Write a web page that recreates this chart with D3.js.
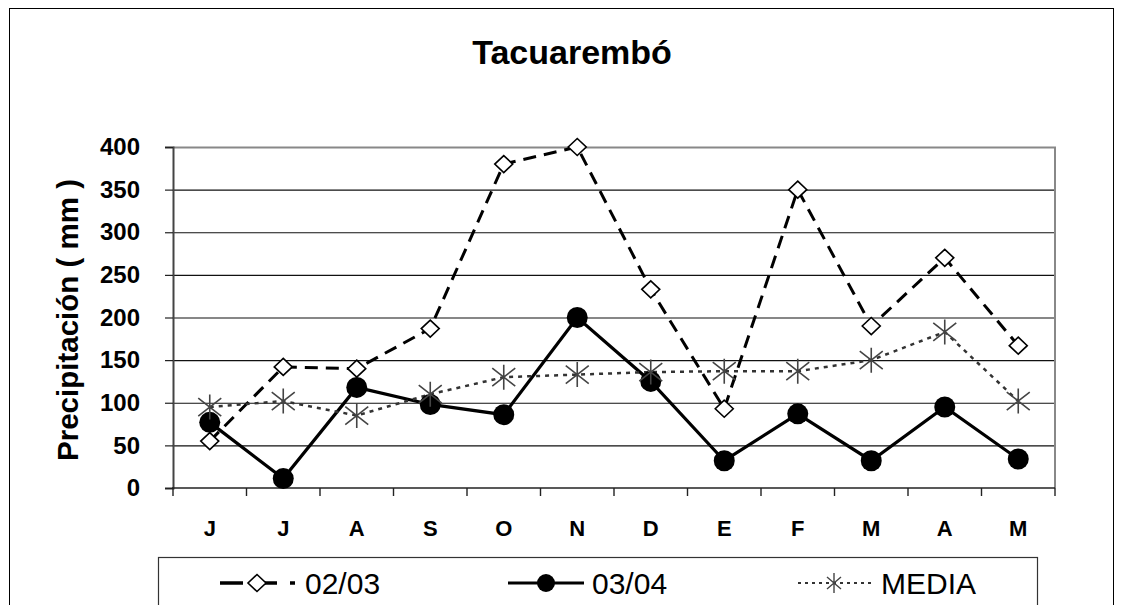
<!DOCTYPE html>
<html>
<head>
<meta charset="utf-8">
<script src="https://cdn.jsdelivr.net/npm/d3@7"></script>
<style>
  html, body { margin: 0; padding: 0; background: #fff; }
  svg { display: block; font-family: "Liberation Sans", Arial, sans-serif; }
</style>
</head>
<body>
<svg id="chart" width="1122" height="605"></svg>
<script>
// Monthly rainfall, Tacuarembó (June to May)
const months = ["J", "J", "A", "S", "O", "N", "D", "E", "F", "M", "A", "M"];
const rain0203 = [55, 142, 140, 187, 380, 400, 233, 93, 350, 190, 270, 167];
const rain0304 = [77, 11, 118, 98, 86, 200, 125, 32, 87, 32, 95, 34];
const rainMedia = [95, 102, 85, 110, 130, 133, 136, 137, 137, 150, 183, 102];
const yTicks = [0, 50, 100, 150, 200, 250, 300, 350, 400];
const seriesNames = ["02/03", "03/04", "MEDIA"];

const svg = d3.select("#chart");

// outer frame
svg.append("rect")
  .attr("x", 9.5).attr("y", 8.5)
  .attr("width", 1104).attr("height", 620)
  .attr("fill", "#fff").attr("stroke", "#000").attr("stroke-width", 1);

const plot = { left: 173, right: 1055, top: 147, bottom: 488 };

const x = d3.scaleBand()
  .domain(d3.range(months.length))
  .range([plot.left, plot.right]);

const y = d3.scaleLinear()
  .domain([0, 400])
  .range([plot.bottom, plot.top]);

const cx = i => x(i) + x.bandwidth() / 2;

// title
svg.append("text")
  .attr("x", 572).attr("y", 64)
  .attr("text-anchor", "middle")
  .attr("font-size", 34).attr("font-weight", "bold")
  .text("Tacuarembó");

// horizontal gridlines
svg.append("g")
  .selectAll("line")
  .data(yTicks.filter(v => v > 0 && v < 400))
  .join("line")
  .attr("x1", plot.left).attr("x2", plot.right)
  .attr("y1", d => y(d) + 0.5).attr("y2", d => y(d) + 0.5)
  .attr("stroke", "#111").attr("stroke-width", 1.2);

// top and right edges of the plot area
svg.append("path")
  .attr("d", `M${plot.left},${y(400) + 0.5}H${plot.right}V${plot.bottom}`)
  .attr("fill", "none").attr("stroke", "#888").attr("stroke-width", 2);

// y axis
const yAxis = svg.append("g")
  .attr("transform", `translate(${plot.left},0)`)
  .call(d3.axisLeft(y).tickValues(yTicks).tickSize(8).tickPadding(25));
yAxis.select(".domain").attr("stroke", "#444").attr("stroke-width", 2);
yAxis.selectAll(".tick line").attr("stroke", "#222").attr("stroke-width", 1.2);
yAxis.selectAll(".tick text")
  .attr("font-size", 24).attr("font-weight", "bold")
  .attr("font-family", "Liberation Sans, Arial, sans-serif")
  .attr("fill", "#000");

// x axis: ticks sit between categories
const xAxis = svg.append("g")
  .attr("transform", `translate(0,${plot.bottom})`);
xAxis.append("line")
  .attr("x1", plot.left - 1).attr("x2", plot.right)
  .attr("y1", 0).attr("y2", 0)
  .attr("stroke", "#222").attr("stroke-width", 1.6);
xAxis.selectAll("line.tk")
  .data(d3.range(months.length + 1))
  .join("line").attr("class", "tk")
  .attr("x1", i => (i < months.length ? x(i) : plot.right))
  .attr("x2", i => (i < months.length ? x(i) : plot.right))
  .attr("y1", 0).attr("y2", 8)
  .attr("stroke", "#222").attr("stroke-width", 1.4);
xAxis.selectAll("text")
  .data(months)
  .join("text")
  .attr("x", (d, i) => cx(i))
  .attr("y", 48)
  .attr("text-anchor", "middle")
  .attr("font-size", 22).attr("font-weight", "bold")
  .text(d => d);

// y axis title
svg.append("text")
  .attr("transform", "translate(78,320) rotate(-90)")
  .attr("text-anchor", "middle")
  .attr("font-size", 29.5).attr("font-weight", "bold")
  .text("Precipitación ( mm )");

// marker shapes
const diamondPath = (hw, hh) => `M0,${-hh}L${hw},0L0,${hh}L${-hw},0Z`;
const starPath = (r, dx, dy) => `M0,${-r}V${r}M${-dx},${-dy}L${dx},${dy}M${-dx},${dy}L${dx},${-dy}`;

const line = d3.line().x((d, i) => cx(i)).y(d => y(d));

// 02/03: long dashes with white diamonds
svg.append("path")
  .datum(rain0203)
  .attr("d", line)
  .attr("fill", "none").attr("stroke", "#000")
  .attr("stroke-width", 3).attr("stroke-dasharray", "13,8");

// 03/04: solid with black circles
svg.append("path")
  .datum(rain0304)
  .attr("d", line)
  .attr("fill", "none").attr("stroke", "#000")
  .attr("stroke-width", 3.2);

// MEDIA: dotted grey with stars
svg.append("path")
  .datum(rainMedia)
  .attr("d", line)
  .attr("fill", "none").attr("stroke", "#333")
  .attr("stroke-width", 2.5).attr("stroke-dasharray", "4,5");

svg.append("g")
  .selectAll("path")
  .data(rain0203)
  .join("path")
  .attr("transform", (d, i) => `translate(${cx(i)},${y(d)})`)
  .attr("d", diamondPath(9, 8.5))
  .attr("fill", "#fff").attr("stroke", "#000").attr("stroke-width", 1.6);

svg.append("g")
  .selectAll("circle")
  .data(rain0304)
  .join("circle")
  .attr("cx", (d, i) => cx(i)).attr("cy", d => y(d))
  .attr("r", 10.5)
  .attr("fill", "#000");

svg.append("g")
  .selectAll("path")
  .data(rainMedia)
  .join("path")
  .attr("transform", (d, i) => `translate(${cx(i)},${y(d)})`)
  .attr("d", starPath(12.5, 11.5, 9))
  .attr("fill", "none").attr("stroke", "#444").attr("stroke-width", 1.6);

// legend
const legend = svg.append("g");
legend.append("rect")
  .attr("x", 158.5).attr("y", 557.5)
  .attr("width", 879).attr("height", 80)
  .attr("fill", "#fff").attr("stroke", "#333").attr("stroke-width", 1.2);

const ly = 583;
const items = [
  { x0: 220, x1: 296, mx: 257, text: 305 },
  { x0: 508, x1: 584, mx: 546, text: 592 },
  { x0: 798, x1: 872, mx: 834, text: 881 }
];

// 02/03 sample
legend.append("line")
  .attr("x1", items[0].x0).attr("x2", items[0].x1).attr("y1", ly).attr("y2", ly)
  .attr("stroke", "#000").attr("stroke-width", 3.5)
  .attr("stroke-dasharray", "23,17,17,13,5");
legend.append("path")
  .attr("transform", `translate(${items[0].mx},${ly})`)
  .attr("d", diamondPath(9, 8.5))
  .attr("fill", "#fff").attr("stroke", "#000").attr("stroke-width", 1.6);

// 03/04 sample
legend.append("line")
  .attr("x1", items[1].x0).attr("x2", items[1].x1).attr("y1", ly).attr("y2", ly)
  .attr("stroke", "#000").attr("stroke-width", 3.2);
legend.append("circle")
  .attr("cx", items[1].mx).attr("cy", ly).attr("r", 9)
  .attr("fill", "#000");

// MEDIA sample
legend.append("line")
  .attr("x1", items[2].x0).attr("x2", items[2].x1).attr("y1", ly).attr("y2", ly)
  .attr("stroke", "#333").attr("stroke-width", 2)
  .attr("stroke-dasharray", "3,4");
legend.append("path")
  .attr("transform", `translate(${items[2].mx},${ly})`)
  .attr("d", starPath(10, 7, 6))
  .attr("fill", "none").attr("stroke", "#444").attr("stroke-width", 1.4);

legend.selectAll("text")
  .data(seriesNames)
  .join("text")
  .attr("x", (d, i) => items[i].text)
  .attr("y", ly + 11)
  .attr("font-size", 30)
  .text(d => d);
</script>
</body>
</html>
